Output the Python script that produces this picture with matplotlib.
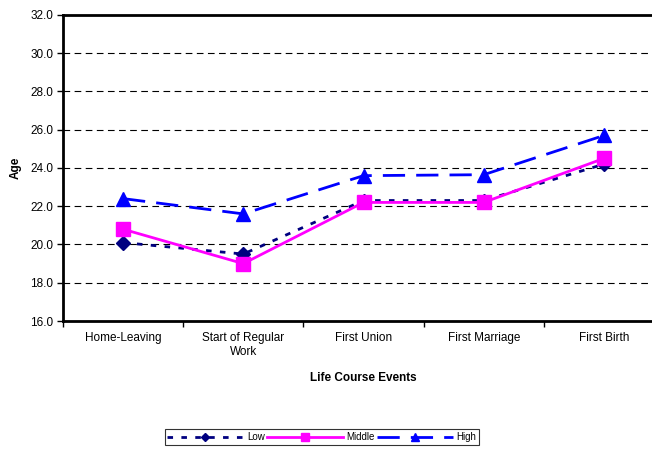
import matplotlib
matplotlib.use("Agg")
import matplotlib.pyplot as plt

plt.rcParams['font.family'] = ['Liberation Sans', 'DejaVu Sans']

events = ["Home-Leaving", "Start of Regular\nWork", "First Union", "First Marriage", "First Birth"]
low = [20.1, 19.5, 22.3, 22.3, 24.2]
middle = [20.8, 19.0, 22.2, 22.2, 24.5]
high = [22.4, 21.6, 23.6, 23.65, 25.7]
yticks = [16, 18, 20, 22, 24, 26, 28, 30, 32]

fig = plt.figure(figsize=(6.52, 4.5), dpi=100)
ax = fig.add_axes([63 / 652, 129 / 450, 601 / 652, 306 / 450])

x = range(len(events))
ax.plot(x, low, color="#000080", linestyle=(0, (2, 3)), linewidth=2,
        marker="D", markersize=7, label="Low")
ax.plot(x, middle, color="#FF00FF", linestyle="-", linewidth=2,
        marker="s", markersize=10, label="Middle")
ax.plot(x, high, color="#0000FF", linestyle=(0, (8, 4)), linewidth=2,
        marker="^", markersize=10, label="High")

ax.set_xlim(-0.5, len(events) - 0.5)
ax.set_ylim(16, 32)
ax.set_yticks(yticks)
ax.set_yticklabels([f"{v:.1f}" for v in yticks], fontsize=8.5)
ax.set_xticks(list(x))
ax.set_xticklabels(events, fontsize=8.5)
ax.tick_params(axis="x", length=0, pad=8)
ax.set_xticks([i + 0.5 for i in range(-1, len(events))], minor=True)
ax.tick_params(axis="x", which="minor", length=4, width=1, direction="out")
ax.tick_params(axis="y", length=4, width=1, direction="out", pad=3)

ax.grid(axis="y", color="black", linestyle=(0, (6, 4)), linewidth=0.8)
ax.set_axisbelow(True)
for s in ["left", "top", "bottom"]:
    ax.spines[s].set_linewidth(2)
ax.spines["right"].set_visible(False)

ax.set_ylabel("Age", fontsize=8.5, fontweight="bold", labelpad=6)
ax.set_xlabel("Life Course Events", fontsize=8.5, fontweight="bold", labelpad=10)

leg = fig.legend(loc="center", bbox_to_anchor=(322 / 652, 1 - 437 / 450), ncol=3,
                 fontsize=7, frameon=True, fancybox=False, handlelength=7.8,
                 columnspacing=0.2, handletextpad=0.4, borderpad=0.3,
                 markerscale=0.6)
leg.get_frame().set_edgecolor("black")
leg.get_frame().set_linewidth(0.8)

fig.savefig("out.png", dpi=100)
